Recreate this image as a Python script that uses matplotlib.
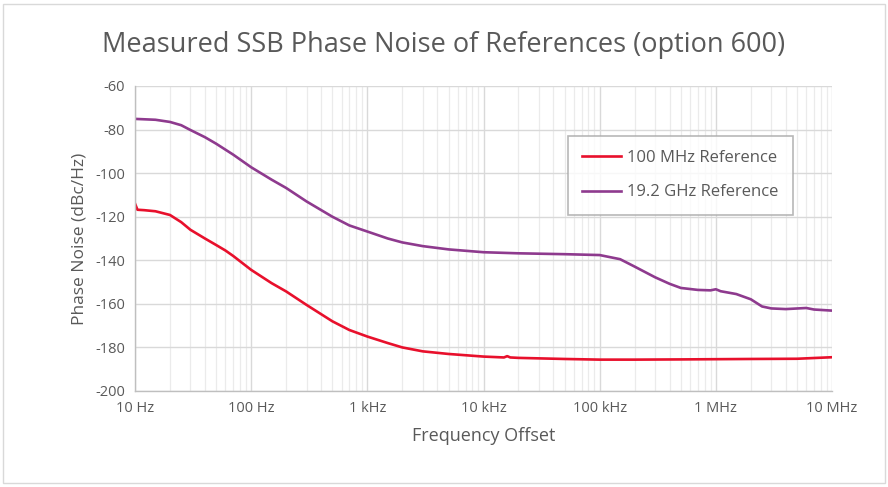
import matplotlib.pyplot as plt
import numpy as np
from matplotlib.ticker import FixedLocator, LogLocator, NullFormatter

# frequency offsets (Hz) and measured SSB phase noise (dBc/Hz)
f_ref100 = [10, 10.5, 12, 15, 20, 25, 30, 40, 50, 60, 70, 100, 150, 200, 300, 500, 700,
            1000, 1500, 2000, 3000, 5000, 10000, 15000, 16000, 17000, 20000, 50000, 100000,
            200000, 500000, 1000000, 2000000, 5000000, 10000000]
pn_ref100 = [-114.0, -116.8, -117.0, -117.5, -119.2, -122.5, -126.0, -130.0, -133.0, -135.5,
             -138.0, -144.4, -150.5, -154.3, -160.5, -168.0, -172.0, -175.0, -178.0, -180.0,
             -181.8, -183.0, -184.2, -184.6, -184.0, -184.6, -184.8, -185.3, -185.6, -185.6,
             -185.5, -185.4, -185.3, -185.2, -184.5]

f_ref19g = [10, 15, 20, 25, 30, 40, 50, 70, 100, 150, 200, 300, 500, 700, 1000, 1500, 2000,
            3000, 5000, 10000, 20000, 50000, 100000, 150000, 200000, 300000, 400000,
            500000, 700000, 900000, 1000000, 1100000, 1500000, 2000000, 2500000, 3000000,
            4000000, 6000000, 7000000, 10000000]
pn_ref19g = [-75.1, -75.5, -76.5, -78.0, -80.2, -83.5, -86.5, -91.5, -97.3, -103.0, -106.8,
             -113.0, -120.0, -124.0, -126.8, -130.0, -131.8, -133.5, -135.0, -136.3, -136.8,
             -137.2, -137.6, -139.5, -142.9, -147.8, -150.8, -152.7, -153.6, -153.8, -153.3,
             -154.2, -155.5, -157.9, -161.2, -162.1, -162.4, -161.9, -162.6, -163.1]

x_ticks = [10, 100, 1000, 10000, 100000, 1000000, 10000000]
x_labels = ['10 Hz', '100 Hz', '1 kHz', '10 kHz', '100 kHz', '1 MHz', '10 MHz']

txt = '#595959'
plt.rcParams['font.family'] = ['Open Sans', 'DejaVu Sans']
plt.rcParams['axes.unicode_minus'] = False

fig = plt.figure(figsize=(8.88, 4.87), dpi=100)
ax = fig.add_axes([135/888, 1-391/487, (832-135)/888, (391-86)/487])

ax.plot(f_ref100, pn_ref100, color='#E8102C', linewidth=1.9, label='100 MHz Reference')
ax.plot(f_ref19g, pn_ref19g, color='#8E3A8E', linewidth=1.9, label='19.2 GHz Reference')

ax.set_xscale('log')
ax.set_xlim(10, 1e7)
ax.set_ylim(-200, -60)
ax.set_yticks(np.arange(-200, -59, 20))
ax.xaxis.set_major_locator(FixedLocator(x_ticks))
ax.set_xticklabels(x_labels)
ax.xaxis.set_minor_locator(LogLocator(base=10, subs=np.arange(2, 10), numticks=20))
ax.xaxis.set_minor_formatter(NullFormatter())

ax.grid(True, which='major', color='#D9D9D9', linewidth=1.0)
ax.grid(True, which='minor', axis='x', color='#EBEBEB', linewidth=0.9)
ax.set_axisbelow(True)

for s in ['top', 'right']:
    ax.spines[s].set_visible(False)
for s in ['left', 'bottom']:
    ax.spines[s].set_color('#BFBFBF')
    ax.spines[s].set_linewidth(1.0)
ax.tick_params(which='both', length=0, colors=txt, labelsize=10.5, pad=7)

ax.set_xlabel('Frequency Offset', color=txt, fontsize=13, labelpad=8)
ax.set_ylabel('Phase Noise (dBc/Hz)', color=txt, fontsize=12.5, labelpad=6)
fig.text(0.5, 1-45/487, 'Measured SSB Phase Noise of References (option 600)',
         ha='center', va='center', color=txt, fontsize=19.5)

leg = ax.legend(loc='upper left', bbox_to_anchor=((568-135)/697, 1-(136-86)/305),
                borderaxespad=0, frameon=True, fancybox=False, fontsize=12, labelcolor=txt,
                handlelength=2.3, borderpad=0.85, labelspacing=1.1, handletextpad=0.4)
leg.get_frame().set_edgecolor('#A6A6A6')
leg.get_frame().set_linewidth(1.2)

fig.patches.append(plt.Rectangle((0.003, 0.008), 0.994, 0.984, transform=fig.transFigure,
                                 fill=False, edgecolor='#D9D9D9', linewidth=1.0))

fig.savefig('out.png', dpi=100)
